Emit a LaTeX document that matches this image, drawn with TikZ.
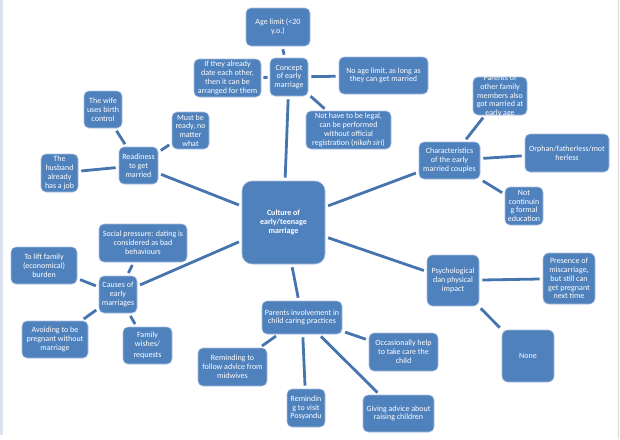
\documentclass[tikz,border=0pt]{standalone}
\usepackage{fontspec}
\setmainfont{Carlito}
\definecolor{boxblue}{HTML}{4F81BD}
\definecolor{lineblue}{HTML}{4674AE}
\definecolor{edgeblue}{HTML}{A9BEDD}
\definecolor{stripc}{HTML}{DCE2F0}
\definecolor{rulec}{HTML}{D9D9D9}
\tikzset{
  box/.style={fill=boxblue, draw=edgeblue, line width=0.6pt, rounded corners=5pt,
    inner sep=0pt, text=white, align=center, font=\fontsize{8}{8.8}\selectfont},
  link/.style={draw=lineblue, line width=2.8pt, shorten <=3pt, shorten >=3pt}
}
\newcommand{\bx}[6]{\node[box, minimum width=#4pt, minimum height=#5pt] (#1) at (#2,#3) {#6};}
\begin{document}
\begin{tikzpicture}[x=1pt,y=-1pt]
\useasboundingbox (0,0) rectangle (620,439);
\fill[stripc] (0,0) rectangle (2.7,435);
\draw[rulec, line width=0.8pt] (618.5,0) -- (618.5,439);
% center
\node[box, rounded corners=10pt, minimum width=83pt, minimum height=83pt, font=\bfseries\fontsize{8}{8.8}\selectfont] (center) at (283.5,222.5) {Culture of\\early/teenage\\marriage};
% concept group
\bx{age}{278}{27}{64}{38}{Age limit (<20\\y.o.)}
\bx{concept}{289}{77}{38}{38}{Concept\\of early\\marriage}
\bx{ifdate}{227.5}{78}{67}{38}{If they already\\date each other,\\then it can be\\arranged for them}
\bx{noage}{383.5}{75.5}{89}{37}{No age limit, as long as\\they can get married}
\bx{legal}{348.5}{130}{85}{38}{Not have to be legal,\\can be performed\\without official\\registration (\textit{nikah siri})}
% readiness group
\bx{must}{190.5}{130.5}{37}{37}{Must be\\ready, no\\matter\\what}
\bx{wife}{103}{109.5}{38}{37}{The wife\\uses birth\\control}
\bx{ready}{138.5}{165.5}{39}{37}{Readiness\\to get\\married}
\bx{husband}{59.5}{173}{37}{38}{The\\husband\\already\\has a job}
% characteristics group
\bx{charac}{449.5}{160.5}{61}{37}{Characteristics\\of the early\\married couples}
\bx{parfam}{500}{96}{54}{38}{}
\begin{scope}
\clip[rounded corners=5pt] (parfam.south west) rectangle (parfam.north east);
\node[text=white, align=center, inner sep=0pt, font=\fontsize{8}{8.8}\selectfont] at (parfam.center) {Parents of\\other family\\members also\\got married at\\early age};
\end{scope}
\bx{orphan}{567}{153}{84}{38}{Orphan/fatherless/mot\\herless}
\bx{notcont}{524}{206}{38}{38}{Not\\continuin\\g formal\\education}
% causes group
\bx{social}{143}{243}{88}{38}{Social pressure: dating is\\considered as bad\\behaviours}
\bx{lift}{44}{265.5}{66}{37}{To lift family\\(economical)\\burden}
\bx{causes}{118}{294.5}{38}{37}{Causes of\\early\\marriages}
\bx{avoid}{55}{339.5}{66}{37}{Avoiding to be\\pregnant without\\marriage}
\bx{family}{147.5}{345.5}{49}{37}{Family\\wishes/\\[3pt]requests}
% parents involvement group
\bx{parinv}{302}{317.5}{80}{33}{Parents involvement in\\child caring practices}
\bx{remfollow}{232.5}{367}{69}{38}{Reminding to\\follow advice from\\midwives}
\bx{remvisit}{306}{408}{38}{38}{Remindin\\g to visit\\Posyandu}
\bx{occas}{403.5}{352}{69}{38}{Occasionally help\\to take care the\\child}
\bx{giving}{398.5}{413.5}{71}{37}{Giving advice about\\raising children}
% psychological group
\node[box, rounded corners=6pt, minimum width=52pt, minimum height=51pt] (psych) at (453,280.5) {Psychological\\dan physical\\impact};
\node[box, rounded corners=6pt, minimum width=52pt, minimum height=51pt] (presence) at (569,278.5) {Presence of\\miscarriage,\\but still can\\get pregnant\\next time};
\node[box, rounded corners=6pt, minimum width=52pt, minimum height=52pt] (none) at (528,356) {None};
% connectors
\draw[link] (center) -- (concept);
\draw[link] (center) -- (ready);
\draw[link] (center) -- (charac);
\draw[link] (center) -- (causes);
\draw[link] (center) -- (psych);
\draw[link] (center) -- (parinv);
\draw[link] (concept) -- (age);
\draw[link, shorten <=2pt, shorten >=2pt] (concept) -- (ifdate);
\draw[link] (concept) -- (noage);
\draw[link] (concept) -- (legal);
\draw[link] (ready) -- (wife);
\draw[link] (ready) -- (must);
\draw[link] (ready) -- (husband);
\draw[link] (charac) -- (parfam);
\draw[link] (charac) -- (orphan);
\draw[link] (charac) -- (notcont);
\draw[link] (causes) -- (social);
\draw[link] (causes) -- (lift);
\draw[link] (causes) -- (avoid);
\draw[link] (causes) -- (family);
\draw[link] (parinv) -- (remfollow);
\draw[link] (parinv) -- (remvisit);
\draw[link] (parinv) -- (giving);
\draw[link] (parinv) -- (occas);
\draw[link] (psych) -- (presence);
\draw[link] (psych) -- (none);
\end{tikzpicture}
\end{document}
